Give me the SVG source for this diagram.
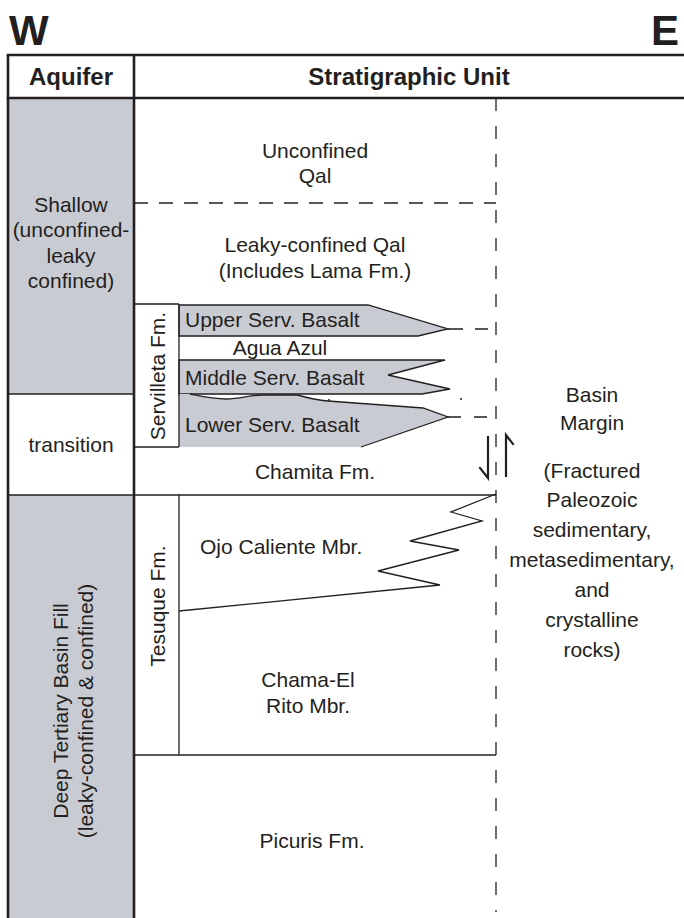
<svg xmlns="http://www.w3.org/2000/svg" width="684" height="918" viewBox="0 0 684 918">
  <style>
    text { font-family: "Liberation Sans", Arial, Helvetica, sans-serif; fill: #231f20; }
    .dir { font-size: 42px; font-weight: bold; }
    .head { font-size: 24px; font-weight: bold; text-anchor: middle; }
    .lbl { font-size: 21px; text-anchor: middle; }
    .lft { font-size: 21px; }
    .thick { stroke: #231f20; stroke-width: 2.6; fill: none; }
    .line { stroke: #231f20; stroke-width: 1.3; fill: none; }
    .dash { stroke: #231f20; stroke-width: 1.3; fill: none; stroke-dasharray: 13 15; }
    .dashh { stroke: #231f20; stroke-width: 1.3; fill: none; stroke-dasharray: 14 11; }
    .aq { fill: #c9cbd2; }
    .basalt { fill: #c9cbd2; stroke: #231f20; stroke-width: 1.3; }
    .arrow { stroke: #231f20; stroke-width: 2.2; fill: none; stroke-linecap: square; }
  </style>

  <!-- compass letters -->
  <text class="dir" x="9" y="45">W</text>
  <text class="dir" x="651" y="45">E</text>

  <!-- aquifer column -->
  <g id="aquifer-shallow">
    <rect class="aq" x="8" y="98" width="126" height="296"/>
    <text class="lbl" x="71" y="212">Shallow</text>
    <text class="lbl" x="71" y="237">(unconfined-</text>
    <text class="lbl" x="71" y="263">leaky</text>
    <text class="lbl" x="71" y="288">confined)</text>
  </g>
  <g id="aquifer-transition">
    <text class="lbl" x="71" y="452">transition</text>
  </g>
  <g id="aquifer-deep">
    <rect class="aq" x="8" y="495" width="126" height="423"/>
    <text class="lbl" transform="translate(68,711) rotate(-90)">Deep Tertiary Basin Fill</text>
    <text class="lbl" transform="translate(93,711) rotate(-90)">(leaky-confined &amp; confined)</text>
  </g>

  <!-- basalt flows of the Servilleta Formation -->
  <g id="upper-basalt">
    <path class="basalt" d="M179,305 L368,305 L448,329 L418,336 L179,336 Z"/>
    <text class="lft" x="185" y="327">Upper Serv. Basalt</text>
  </g>
  <g id="agua-azul">
    <text class="lbl" x="280" y="355">Agua Azul</text>
  </g>
  <g id="middle-basalt">
    <path class="basalt" d="M179,360 L445,360 L388,375 L450,389 L422,394 L179,394 Z"/>
    <text class="lft" x="185" y="385">Middle Serv. Basalt</text>
  </g>
  <g id="lower-basalt">
    <path class="aq" d="M179,394 L190,394 C205,397 214,399 226,399 C240,399 250,395 262,395 L297,395 C308,398 316,400 328,401 L423,408 L448,417 L361,447 L179,447 Z"/>
    <path class="line" d="M190,394 C205,397 214,399 226,399 C240,399 250,395 262,395 L297,395 C308,398 316,400 328,401 L423,408 L448,417 L361,447"/>
    <circle cx="329" cy="400" r="1" fill="#231f20"/>
    <circle cx="461" cy="399" r="1" fill="#231f20"/>
    <text class="lft" x="185" y="432">Lower Serv. Basalt</text>
  </g>

  <g id="servilleta">
    <path class="line" d="M134,304 L179,304 M179,304 L179,447"/>
    <text class="lbl" transform="translate(165,376) rotate(-90)">Servilleta Fm.</text>
  </g>

  <g id="unconfined-qal">
    <text class="lbl" x="315" y="158">Unconfined</text>
    <text class="lbl" x="315" y="183">Qal</text>
  </g>
  <g id="leaky-qal">
    <text class="lbl" x="315" y="252">Leaky-confined Qal</text>
    <text class="lbl" x="315" y="278">(Includes Lama Fm.)</text>
  </g>
  <g id="chamita">
    <text class="lbl" x="315" y="479">Chamita Fm.</text>
  </g>
  <g id="tesuque">
    <path class="line" d="M179,495 L179,755"/>
    <text class="lbl" transform="translate(165,606) rotate(-90)">Tesuque Fm.</text>
  </g>
  <g id="ojo-caliente">
    <path class="line" d="M179,611 L440,585 L378,571 L459,550 L410,541 L482,521 L451,512 L496,494"/>
    <text class="lft" x="200" y="554">Ojo Caliente Mbr.</text>
  </g>
  <g id="chama-el-rito">
    <text class="lbl" x="308" y="687">Chama-El</text>
    <text class="lbl" x="308" y="713">Rito Mbr.</text>
  </g>
  <g id="picuris">
    <text class="lbl" x="312" y="848">Picuris Fm.</text>
  </g>
  <g id="basin-margin">
    <text class="lbl" x="592" y="402">Basin</text>
    <text class="lbl" x="592" y="430">Margin</text>
    <text class="lbl" x="592" y="478">(Fractured</text>
    <text class="lbl" x="592" y="507">Paleozoic</text>
    <text class="lbl" x="592" y="537">sedimentary,</text>
    <text class="lbl" x="592" y="567">metasedimentary,</text>
    <text class="lbl" x="592" y="597">and</text>
    <text class="lbl" x="592" y="627">crystalline</text>
    <text class="lbl" x="592" y="657">rocks)</text>
  </g>

  <!-- contacts, fault and table rules -->
  <g id="connectors">
    <!-- unit contacts -->
    <path class="line" d="M8,394 L134,394"/>
    <path class="line" d="M8,495 L496,495"/>
    <path class="line" d="M134,447 L179,447"/>
    <path class="line" d="M134,755 L496,755"/>
    <path class="dashh" d="M134,203 L496,203"/>
    <path class="line" d="M448,329 L463,329 M475,329 L488,329"/>
    <path class="line" d="M448,417 L461,417 M474,417 L487,417"/>
    <!-- basin-bounding fault -->
    <path class="dash" d="M496,98 L496,912"/>
    <path class="arrow" d="M488,437 L488,478 L480,468"/>
    <path class="arrow" d="M506,476 L506,435 L513,444"/>
    <!-- table frame -->
    <path class="thick" d="M6.7,55 L684,55"/>
    <path class="thick" d="M6.7,98 L684,98"/>
    <path class="thick" d="M8,55 L8,918"/>
    <path class="thick" d="M134,55 L134,918" stroke-width="2"/>
  </g>

  <g id="header">
    <text class="head" x="71" y="85">Aquifer</text>
    <text class="head" x="409" y="85">Stratigraphic Unit</text>
  </g>
</svg>
